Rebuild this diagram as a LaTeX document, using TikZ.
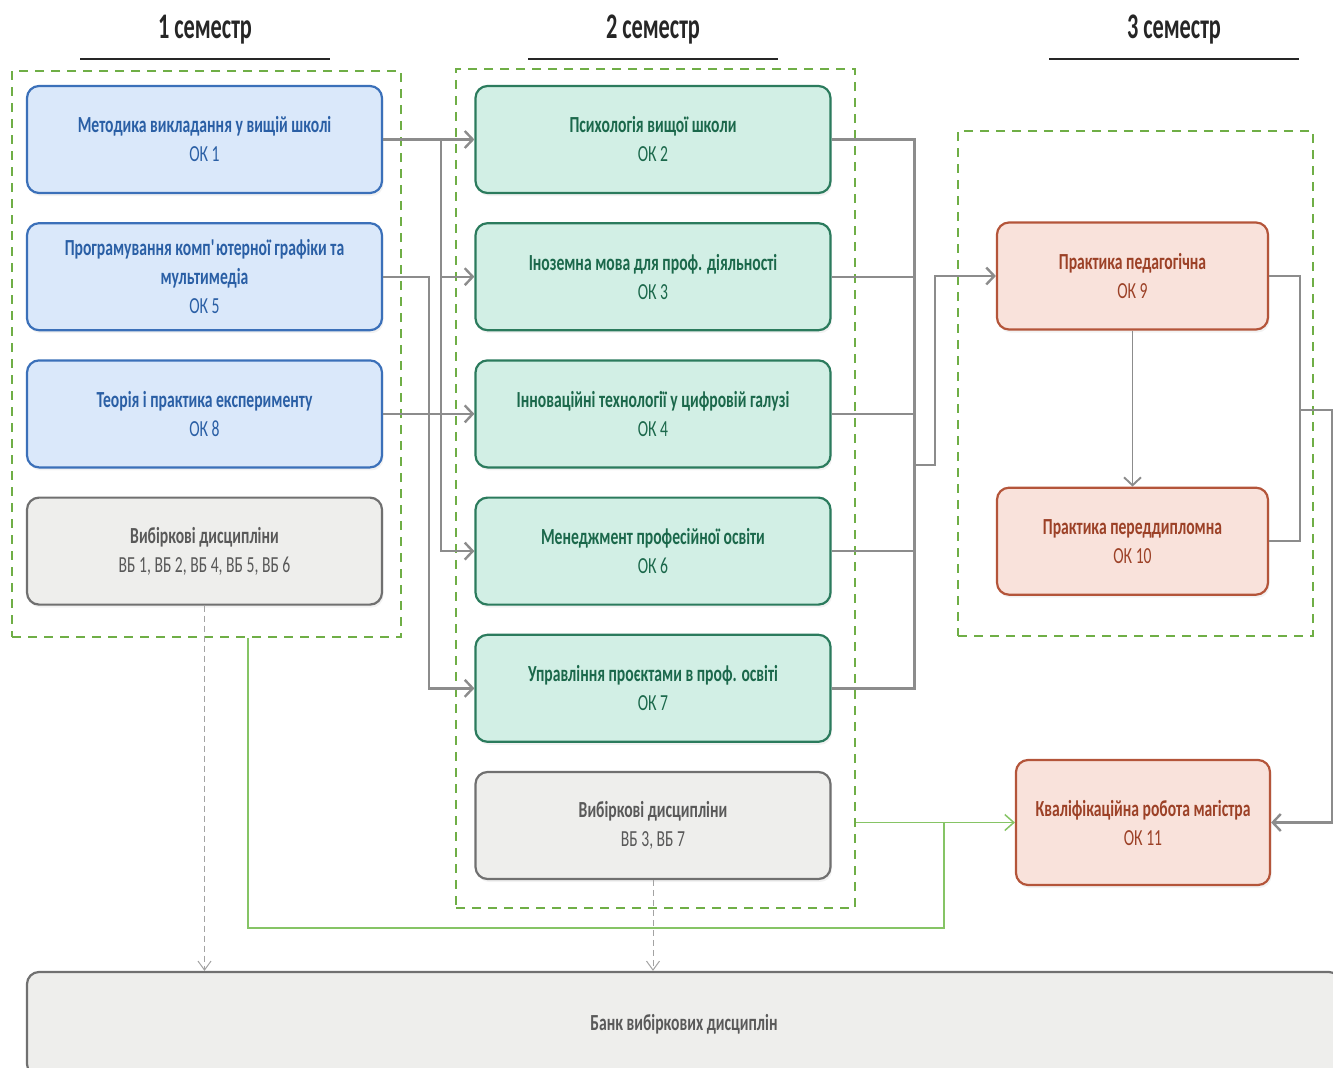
\documentclass[tikz,border=0pt]{standalone}
\usepackage{fontspec}
\setmainfont{Carlito}[FakeStretch=0.68]
\newfontfamily\headfont{Carlito}[FakeStretch=0.62]
\usetikzlibrary{positioning,arrows.meta,fit,shadows}

\definecolor{blueFill}{HTML}{DAE8FA}
\definecolor{blueDraw}{HTML}{3B70B9}
\definecolor{blueText}{HTML}{2A5FA5}
\definecolor{grnFill}{HTML}{D2EFE5}
\definecolor{grnDraw}{HTML}{2B7B5D}
\definecolor{grnText}{HTML}{1B684B}
\definecolor{grayFill}{HTML}{EEEEEC}
\definecolor{grayDraw}{HTML}{707070}
\definecolor{grayText}{HTML}{595959}
\definecolor{redFill}{HTML}{F9E2DB}
\definecolor{redDraw}{HTML}{B4553A}
\definecolor{redText}{HTML}{9C4127}
\definecolor{frameGreen}{HTML}{6FAE46}
\definecolor{linkGray}{HTML}{8C8C8C}
\definecolor{linkGreen}{HTML}{86C465}

\begin{document}
\begin{tikzpicture}[
x=1pt,y=-1pt,
node distance=28pt,
course/.style={
draw,
rounded corners=12pt,
line width=2.2pt,
minimum width=355pt,
minimum height=107pt,
align=center,
font=\fontsize{23}{29}\selectfont,
drop shadow={shadow xshift=1.5pt,shadow yshift=-3pt,opacity=0.10}
},
blubox/.style={course,draw=blueDraw,fill=blueFill,text=blueText},
grnbox/.style={course,draw=grnDraw,fill=grnFill,text=grnText},
graybox/.style={course,draw=grayDraw,fill=grayFill,text=grayText},
redbox/.style={course,draw=redDraw,fill=redFill,text=redText,minimum width=271pt},
semframe/.style={draw=frameGreen,line width=2.4pt,dash pattern=on 9pt off 7pt,inner sep=0pt},
semhead/.style={font=\headfont\fontsize{36}{40}\selectfont\bfseries,text=black!85},
headrule/.style={line width=2.6pt,black!85},
plain/.style={draw=linkGray,line width=2.4pt},
link/.style={plain,->},
optlink/.style={draw=linkGray!80,line width=1pt,dash pattern=on 6pt off 4pt,
  -{Straight Barb[length=9pt,width=13pt]}},
grnline/.style={draw=linkGreen,line width=1.5pt},
grnlink/.style={grnline,-{Straight Barb[length=9pt,width=16pt]}},
>={Straight Barb[length=8pt,width=17pt]}
]
\useasboundingbox (0,0) rectangle (1333,1068);

% рамки семестрів
\node (sem1) [semframe,fit={(12,71) (401,637)}] {};
\node (sem2) [semframe,fit={(456,69) (855,908)}] {};
\node (sem3) [semframe,fit={(958,131) (1313,636)}] {};

\node (head1) [semhead] at (205,30) {1 семестр};
\node (head2) [semhead] at (653,30) {2 семестр};
\node (head3) [semhead] at (1174,30) {3 семестр};
\draw[headrule] (80,59) -- (330,59);
\draw[headrule] (528,59) -- (778,59);
\draw[headrule] (1049,59) -- (1299,59);

% 1 семестр
\node (ok1) [blubox] at (204.5,139.5)
{\textbf{Методика викладання у вищій школі}\\ОК 1};
\node (ok5) [blubox,below=of ok1]
{\textbf{Програмування комп\textquotesingle ютерної графіки та}\\\textbf{мультимедіа}\\ОК 5};
\node (ok8) [blubox,below=of ok5]
{\textbf{Теорія і практика експерименту}\\ОК 8};
\node (vb1) [graybox,below=of ok8]
{\textbf{Вибіркові дисципліни}\\ВБ 1, ВБ 2, ВБ 4, ВБ 5, ВБ 6};

% 2 семестр
\node (ok2) [grnbox] at (653,139.5)
{\textbf{Психологія вищої школи}\\ОК 2};
\node (ok3) [grnbox,below=of ok2]
{\textbf{Іноземна мова для проф. діяльності}\\ОК 3};
\node (ok4) [grnbox,below=of ok3]
{\textbf{Інноваційні технології у цифровій галузі}\\ОК 4};
\node (ok6) [grnbox,below=of ok4]
{\textbf{Менеджмент професійної освіти}\\ОК 6};
\node (ok7) [grnbox,below=of ok6]
{\textbf{Управління проєктами в проф. освіті}\\ОК 7};
\node (vb2) [graybox,below=of ok7]
{\textbf{Вибіркові дисципліни}\\ВБ 3, ВБ 7};

% 3 семестр
\node (ok9) [redbox] at (1132.5,276)
{\textbf{Практика педагогічна}\\ОК 9};
\node (ok10) [redbox,below=156pt of ok9]
{\textbf{Практика переддипломна}\\ОК 10};
\node (ok11) [redbox,minimum width=254pt,minimum height=125pt] at (1143,822.5)
{\textbf{Кваліфікаційна робота магістра}\\ОК 11};

\node (bank) [graybox,minimum width=1314pt,minimum height=104pt] at (684,1024)
{\textbf{Банк вибіркових дисциплін}};

% зв'язки
\draw[link] (ok1) -- (ok2);
\draw[link] (ok1.east) -- ++(58,0) |- (ok3);
\draw[link] (ok1.east) -- ++(58,0) |- (ok6);
\draw[link] (ok5.east) -- ++(46,0) |- (ok7);
\draw[link] (ok8) -- (ok4);

\draw[plain] (ok2.east) -| ([xshift=83pt]ok7.east) -- (ok7.east);
\draw[plain] (ok3.east) -- ++(83,0);
\draw[plain] (ok4.east) -- ++(83,0);
\draw[plain] (ok6.east) -- ++(83,0);
\coordinate (merge2) at (913,465);
\draw[link] (merge2) -- ++(22,0) |- (ok9);

\draw[link,line width=1.9pt] (ok9) -- (ok10);
\draw[plain] (ok9.east) -| ([xshift=31pt]ok10.east) -- (ok10.east);
\coordinate (merge3) at (1299,410);
\draw[link] (merge3) -- ++(33,0) |- (ok11);

\draw[grnlink] (sem2.east |- ok11) -- (ok11);
\coordinate (gturn) at (944,928);
\draw[grnline] ([xshift=41.5pt]sem1.south) |- (gturn) -- (gturn |- ok11);

\draw[optlink] (vb1) -- (vb1 |- bank.north);
\draw[optlink] (vb2) -- (vb2 |- bank.north);
\end{tikzpicture}
\end{document}
